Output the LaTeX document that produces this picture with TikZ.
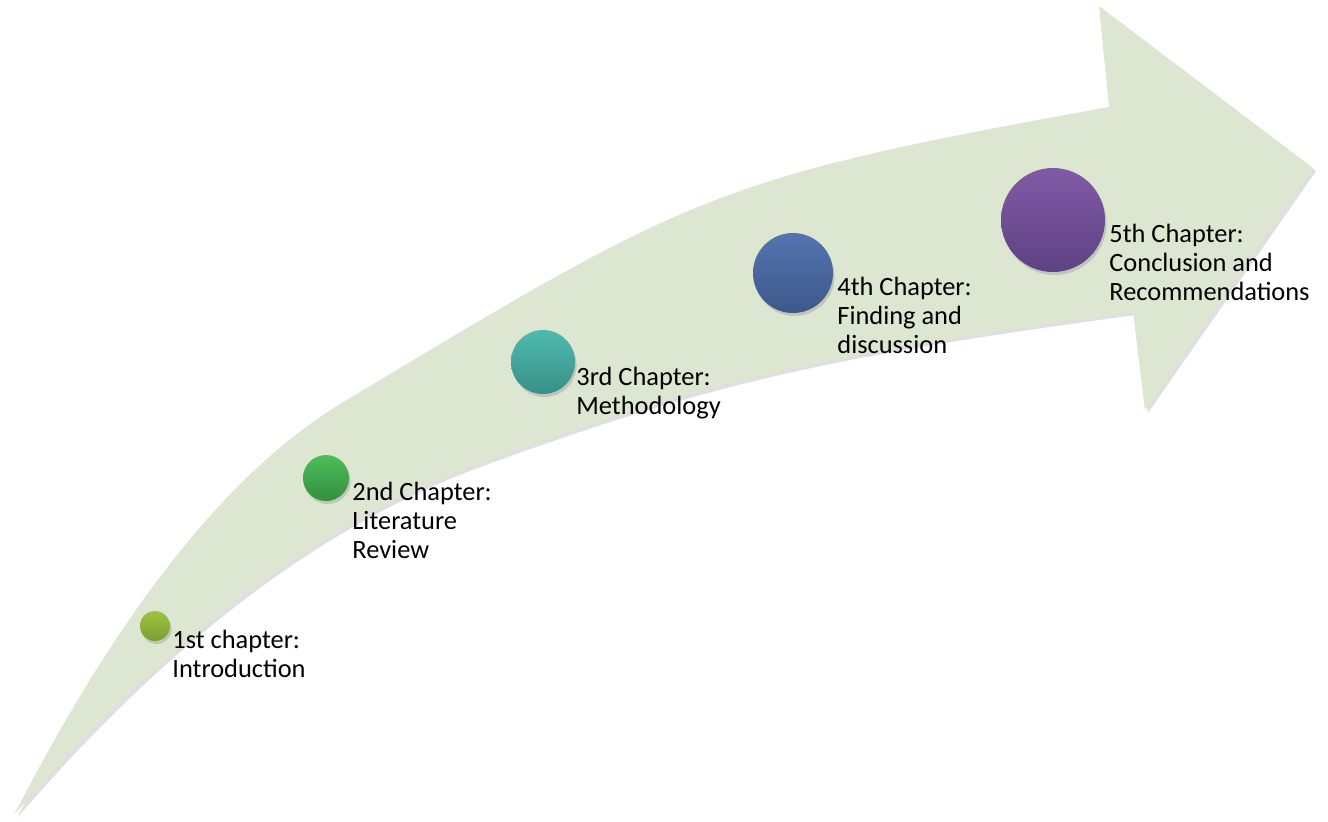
\documentclass[tikz,border=0pt]{standalone}
\usepackage{fontspec}
\setmainfont{Carlito}
\usetikzlibrary{shadows}

\definecolor{bandgreen}{RGB}{221,230,209}
\definecolor{dotA}{RGB}{157,196,66}
\definecolor{dotAd}{RGB}{124,158,48}
\definecolor{dotB}{RGB}{76,190,90}
\definecolor{dotBd}{RGB}{52,142,62}
\definecolor{dotC}{RGB}{78,186,174}
\definecolor{dotCd}{RGB}{56,144,136}
\definecolor{dotD}{RGB}{84,116,176}
\definecolor{dotDd}{RGB}{62,88,138}
\definecolor{dotE}{RGB}{128,90,166}
\definecolor{dotEd}{RGB}{94,66,130}

\tikzstyle{dotstyle} = [circle, inner sep=0, drop shadow={shadow xshift=0.8pt, shadow yshift=-1.5pt, opacity=0.3}]
\tikzstyle{labelstyle} = [anchor=base west, align=left, inner sep=0, font=\fontsize{13.2}{14.4}\selectfont]

\begin{document}
\begin{tikzpicture}[x=0.5pt, y=-0.5pt]
  \useasboundingbox (0,0) rectangle (1328,821);

  % curved arrow
  \fill[bandgreen, drop shadow={shadow xshift=1.5pt, shadow yshift=-1.5pt, opacity=0.25}]
    (14,815) .. controls (130,590) and (240,462) .. (350,398)
    .. controls (693,192) and (716,178) .. (1109,107)
    -- (1099,6) -- (1313,168) -- (1145,410) -- (1133,312)
    .. controls (820,354) and (700,383) .. (480,463)
    .. controls (321,521) and (166,638) .. (14,815)
    -- cycle;

  \node at (155,626) [dotstyle, minimum size=15pt, top color=dotA, bottom color=dotAd] (c1) {};
  \node at (326,478) [dotstyle, minimum size=23pt, top color=dotB, bottom color=dotBd] (c2) {};
  \node at (543,362) [dotstyle, minimum size=32pt, top color=dotC, bottom color=dotCd] (c3) {};
  \node at (793,273) [dotstyle, minimum size=40pt, top color=dotD, bottom color=dotDd] (c4) {};
  \node at (1053,220) [dotstyle, minimum size=52pt, top color=dotE, bottom color=dotEd] (c5) {};

  \node at (172,677) [labelstyle] (t1) {1st chapter:\\Introduction};
  \node at (352,558) [labelstyle] (t2) {2nd Chapter:\\Literature\\Review};
  \node at (576,414) [labelstyle] (t3) {3rd Chapter:\\Methodology};
  \node at (837,353) [labelstyle] (t4) {4th Chapter:\\Finding and\\discussion};
  \node at (1109,300) [labelstyle] (t5) {5th Chapter:\\Conclusion and\\Recommendations};
\end{tikzpicture}
\end{document}
